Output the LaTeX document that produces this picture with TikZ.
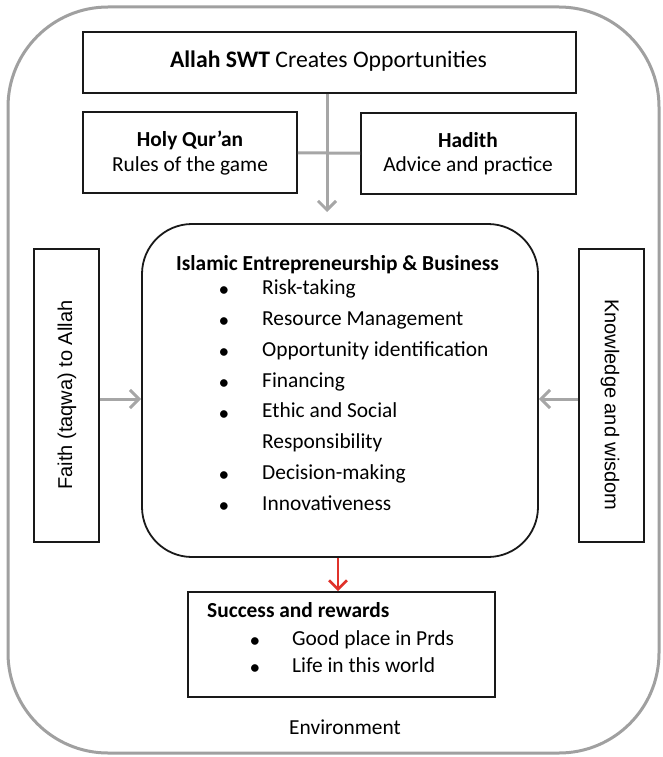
\documentclass[tikz,border=0pt]{standalone}
\usepackage{fontspec}
\setmainfont{Carlito}
\newfontfamily\arialf{Liberation Sans}
\usetikzlibrary{arrows.meta}
\definecolor{envgray}{HTML}{A0A0A0}
\definecolor{arrgray}{HTML}{A6A6A6}
\definecolor{redarr}{HTML}{E0322B}
\tikzset{
  blackbox/.style={draw=black!90, line width=1.8pt, inner sep=0pt, fill=white},
  txt/.style={inner sep=0pt, font=\fontsize{21.4}{26}\selectfont},
  btxt/.style={inner sep=0pt, font=\fontsize{21.4}{26}\selectfont\bfseries},
  toptxt/.style={inner sep=0pt, font=\fontsize{23.7}{28}\selectfont},
  vtxt/.style={inner sep=0pt, font=\arialf\fontsize{20}{24}\selectfont},
  garrow/.style={draw=arrgray, line width=3pt, -{Straight Barb[length=9pt,width=18pt,line width=3pt]}},
  gline/.style={draw=arrgray, line width=3pt},
  rarrow/.style={draw=redarr, line width=2.6pt, -{Straight Barb[length=9pt,width=18pt,line width=2.6pt]}},
}
\begin{document}
\begin{tikzpicture}[x=1pt,y=-1pt]
\useasboundingbox (0,0) rectangle (662,757);
% environment
\draw[envgray, line width=3pt, rounded corners=100pt] (8,7) rectangle (659,753);
\node[txt] (env) at (345,727) {Environment};

% boxes
\node[blackbox, minimum width=493pt, minimum height=61pt] (top) at (329.5,62.5) {};
\node[blackbox, minimum width=214pt, minimum height=81pt] (quran) at (190,152.75) {};
\node[blackbox, minimum width=215pt, minimum height=81pt] (hadith) at (468.5,153.25) {};
\node[blackbox, rounded corners=50pt, minimum width=396pt, minimum height=333pt] (central) at (340,390.5) {};
\node[blackbox, minimum width=65pt, minimum height=293pt] (faith) at (66.5,395.5) {};
\node[blackbox, minimum width=65pt, minimum height=293pt] (know) at (611.5,395.5) {};
\node[blackbox, minimum width=307pt, minimum height=105pt] (success) at (341.5,644.5) {};

% top texts
\node[toptxt] (toptxt) at (328.5,61) {\textbf{Allah SWT} Creates Opportunities};
\node[btxt] (qt1) at (190,140) {Holy Qur’an};
\node[txt] (qt2) at (190,166) {Rules of the game};
\node[btxt] (ht1) at (468,140) {Hadith};
\node[txt] (ht2) at (468,166) {Advice and practice};

% vertical texts
\node[vtxt, rotate=90] (faithtxt) at (67,395) {Faith (taqwa) to Allah};
\node[vtxt, rotate=-90] (knowtxt) at (610,405) {Knowledge and wisdom};

% central list
\node[btxt] (ctitle) at (337.5,265) {Islamic Entrepreneurship \& Business};
\foreach \t [count=\i] in {Risk-taking,Resource Management,Opportunity identification,Financing,Ethic and Social}{
  \node[txt] (cb\i) at (224,292+30.9*\i-30.9) {\textbullet};
  \node[txt, anchor=mid west] (ci\i) at (262,292+30.9*\i-30.9) {\t};
}
\node[txt, anchor=mid west] (ci6) at (262,446) {Responsibility};
\node[txt] (cb7) at (224,477) {\textbullet};
\node[txt, anchor=mid west] (ci7) at (262,477) {Decision-making};
\node[txt] (cb8) at (224,508) {\textbullet};
\node[txt, anchor=mid west] (ci8) at (262,508) {Innovativeness};

% success list
\node[btxt, anchor=mid west] (stitle) at (207,615) {Success and rewards};
\node[txt] (sb1) at (255,643) {\textbullet};
\node[txt, anchor=mid west] (si1) at (292,643) {Good place in Prds};
\node[txt] (sb2) at (255,670) {\textbullet};
\node[txt, anchor=mid west] (si2) at (292,670) {Life in this world};

% connectors
\coordinate (vtip) at (327,212);
\draw[garrow] (top.south -| vtip) -- (vtip);
\draw[gline] (quran.east) -- (hadith.west);
\coordinate (ly) at (0,399);
\draw[garrow] (faith.east |- ly) -- (central.west |- ly);
\draw[garrow] (know.west |- ly) -- (central.east |- ly);
\coordinate (rx) at (338,0);
\draw[rarrow] (central.south -| rx) -- (success.north -| rx);
\end{tikzpicture}
\end{document}
